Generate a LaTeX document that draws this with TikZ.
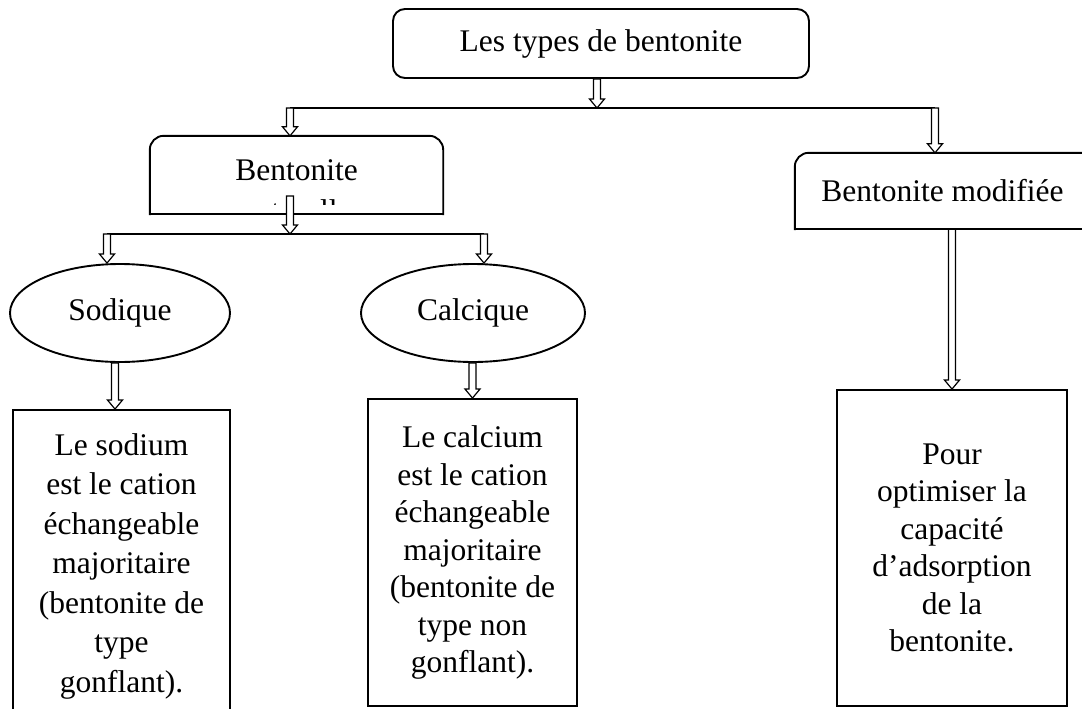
\documentclass[tikz,border=0pt]{standalone}
\usepackage{fontspec}
\setmainfont{Liberation Serif}
\usetikzlibrary{shapes.geometric,calc}
\begin{document}
\begin{tikzpicture}[x=1pt,y=-1pt,
  every node/.style={font=\fontsize{31.5}{37.5}\selectfont, inner sep=0pt},
  rbox/.style={draw, line width=1.9pt, rounded corners=12pt},
  sbox/.style={draw, line width=1.9pt, align=center},
  oval/.style={draw, ellipse, line width=1.9pt},
  edge/.style={line width=1.9pt, line cap=rect},
  bus/.style={line width=1.9pt},
  darrow/.style={draw, fill=white, line width=1.2pt, line join=miter,
    to path={let \p1=(\tikztostart), \p2=(\tikztotarget) in
      (\x1-3.5pt,\y1) -- (\x1-3.5pt,\y2+9pt) -- (\x1-7.5pt,\y2+9pt) -- (\x1,\y2)
      -- (\x1+7.5pt,\y2+9pt) -- (\x1+3.5pt,\y2+9pt) -- (\x1+3.5pt,\y1) -- cycle}}
]
\useasboundingbox (0,0) rectangle (1082,709);

% top box
\node[rbox, minimum width=416pt, minimum height=69pt] (top) at (601,43.5) {Les types de bentonite};

% Bentonite (naturelle) box
\node[minimum width=293pt, minimum height=78pt] (nat) at (296.5,175) {};
\draw[edge, rounded corners=14pt] (nat.south west) -- (nat.north west) -- (nat.north east) -- (nat.south east);
\draw[edge] (nat.south west) -- (nat.south east);
\node[anchor=base] (natlbl) at (296.5,180) {Bentonite};
\begin{scope}
  \clip (150,136) rectangle (443,204);
  \node[anchor=base] (natlbl2) at (296.5,221) {naturelle};
\end{scope}

% Bentonite modifiee box
\node[minimum width=295pt, minimum height=76pt] (mod) at (942.5,191) {Bentonite modifiée};
\draw[edge, rounded corners=14pt] (mod.south west) -- (mod.north west) -- (mod.north east);
\draw[edge] (mod.south west) -- (mod.south east);

% ellipses
\node[oval, minimum width=220pt, minimum height=98pt] (sod) at (120,313) {Sodique};
\node[oval, minimum width=224pt, minimum height=98pt] (cal) at (473,313) {Calcique};

% lower boxes
\node[sbox, minimum width=217pt, minimum height=312pt, font=\fontsize{31.5}{39.5}\selectfont] (sodbox) at (121.5,566)
  {Le sodium\\est le cation\\échangeable\\majoritaire\\(bentonite de\\type\\gonflant).};
\node[sbox, minimum width=209pt, minimum height=307pt] (calbox) at (472.5,552.5)
  {Le calcium\\est le cation\\échangeable\\majoritaire\\(bentonite de\\type non\\gonflant).};
\node[sbox, minimum width=230pt, minimum height=316pt] (modbox) at (952,548)
  {Pour\\optimiser la\\capacité\\d’adsorption\\de la\\bentonite.};

% connectors
\coordinate (b1) at (597,108);
\coordinate (bl) at (290,108);
\coordinate (br) at (935,108);
\draw[bus] (bl) -- (br);
\draw[darrow] (b1 |- top.south) to (b1);
\draw[darrow] (bl) to (bl |- nat.north);
\draw[darrow] (br) to (br |- mod.north);

\coordinate (natin) at (290,196);
\coordinate (c1) at (290,234);
\coordinate (cl) at (107,234);
\coordinate (cr) at (484,234);
\draw[bus] (cl) -- (cr);
\draw[darrow] (natin) to (c1);
\draw[darrow] (cl) to (cl |- sod.north);
\draw[darrow] (cr) to (cr |- cal.north);

\coordinate (s1) at ([xshift=-5pt]sod.south);
\draw[darrow] (s1) to (s1 |- sodbox.north);
\draw[darrow] (calbox.north |- cal.south) to (calbox.north);
\draw[darrow] (modbox.north |- mod.south) to (modbox.north);
\end{tikzpicture}
\end{document}
